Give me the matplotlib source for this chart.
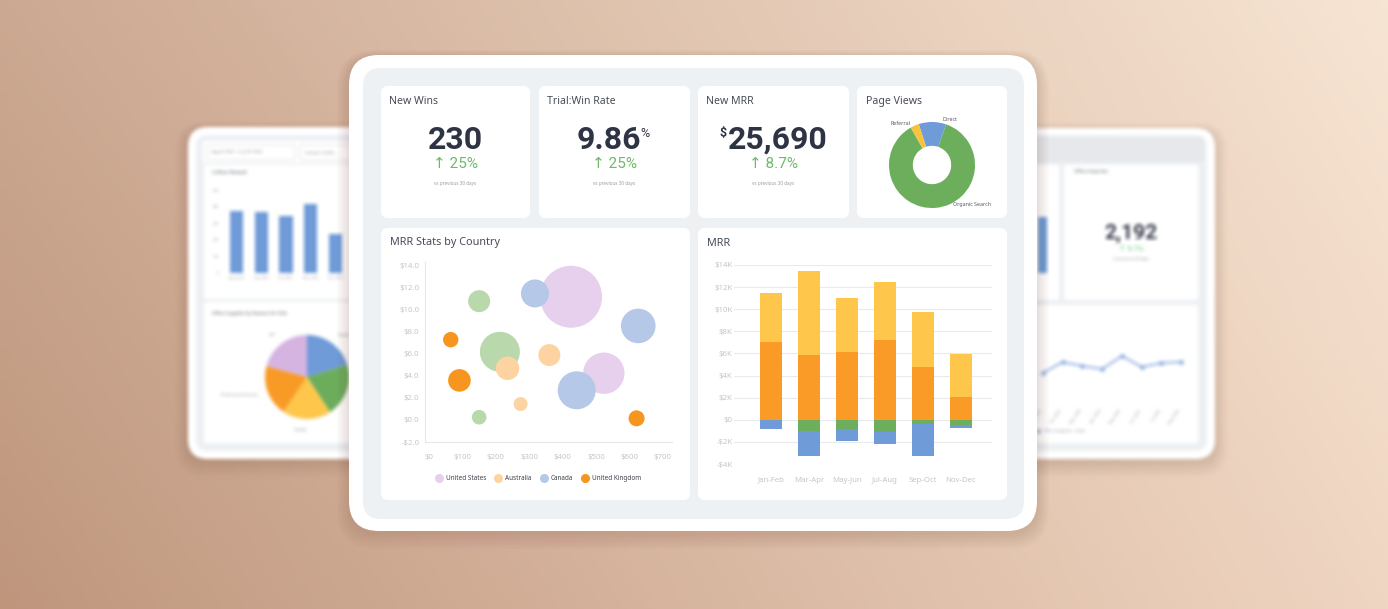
import numpy as np
import matplotlib
matplotlib.use("Agg")
import matplotlib.pyplot as plt
from matplotlib.patches import FancyBboxPatch
from matplotlib.lines import Line2D
from matplotlib.colors import to_rgb


W, H = 1388, 609

# ---------------- data ----------------
kpi_titles = ["New Wins", "Trial:Win Rate", "New MRR"]
kpi_values = ["230", "9.86", "25,690"]
kpi_prefix = ["", "", "$"]
kpi_suffix = ["", "%", ""]
kpi_changes = ["↑ 25%", "↑ 25%", "↑ 8.7%"]
kpi_note = "vs previous 30 days"

page_view_labels = ["Direct", "Organic Search", "Referral"]
page_view_values = [10.3, 86.5, 3.2]

# bubble chart: x = MRR ($), y = growth ($K), r = bubble size
us_x = [425, 523]
us_y = [11.2, 4.25]
us_r = [31, 20.7]
au_x = [235, 360, 274]
au_y = [4.7, 5.9, 1.45]
au_r = [11.7, 11, 7]
ca_x = [317, 626, 442]
ca_y = [11.5, 8.55, 2.7]
ca_r = [14, 17.3, 19]
uk_x = [65, 91, 621]
uk_y = [7.3, 3.6, 0.15]
uk_r = [7.7, 11.3, 8]
other_x = [212, 150, 150]
other_y = [6.2, 10.8, 0.25]
other_r = [20, 11, 7.3]
bubble_xticks = [0, 100, 200, 300, 400, 500, 600, 700]
bubble_yticks = [-2, 0, 2, 4, 6, 8, 10, 12, 14]

# MRR stacked bars ($K)
periods = ["Jan-Feb", "Mar-Apr", "May-Jun", "Jul-Aug", "Sep-Oct", "Nov-Dec"]
mrr_new = [7.02, 5.82, 6.12, 7.18, 4.76, 2.02]
mrr_expansion = [4.44, 7.68, 4.88, 5.27, 4.95, 3.92]
mrr_contraction = [0.0, -1.03, -0.87, -1.12, -0.42, -0.45]
mrr_churn = [-0.87, -2.26, -1.03, -1.05, -2.86, -0.27]
mrr_yticks = [-4, -2, 0, 2, 4, 6, 8, 10, 12, 14]

# background tablets
coffee_months = ["Aug 2021", "Sep 2021", "Oct 2021", "Nov 2021", "Dec 2021"]
coffee_values = [373, 367, 343, 416, 235]
visit_reasons = ["Supplies", "Meeting", "Facility", "Professional Services", "VIP"]
visit_values = [20.3, 20.4, 18.7, 19.7, 20.8]
inquiry_months = ["Jan 2022", "Feb 2022", "Mar 2022", "Apr 2022",
                  "May 2022", "Jun 2022", "Jul 2022", "Aug 2022"]
inquiry_values = [27, 38, 34, 31, 44, 33, 37, 38]
side_bar_value = [337]
inquiries_total = "2,192"
inquiries_change = "↑ 9.7%"

# ---------------- style ----------------
plt.rcParams["font.family"] = ["Noto Sans", "DejaVu Sans"]
NUM_FONT = ["Roboto", "DejaVu Sans"]

BLUE = "#6f9bd8"
GREEN = "#6cae5c"
YELLOW = "#fec74b"
ORANGE = "#f99b26"
TICK = "#c3c6cb"
TITLE = "#474c57"
NAVY = "#2f3445"
UP = "#6dba68"
PANEL = "#eef1f4"


def box(x0, y0, x1, y1):
    return [x0 / W, 1 - y1 / H, (x1 - x0) / W, (y1 - y0) / H]


def rounded(ax, x0, y0, x1, y1, r, color, **kw):
    p = FancyBboxPatch((x0, y0), x1 - x0, y1 - y0,
                       boxstyle=f"round,pad=0,rounding_size={r}",
                       fc=color, ec=kw.pop("ec", "none"), **kw)
    ax.add_patch(p)
    return p


def pixel_layer(fig, z):
    ax = fig.add_axes([0, 0, 1, 1], zorder=z)
    ax.set_xlim(0, W)
    ax.set_ylim(H, 0)
    ax.axis("off")
    ax.patch.set_visible(False)
    return ax


def shadow(ax, x0, y0, x1, y1, r):
    for i in range(1, 9):
        rounded(ax, x0 - i * 1.5, y0 - i + 3, x1 + i * 1.5, y1 + i * 2 + 2,
                r + i, "#6b4030", alpha=0.018)


def bare(ax):
    for s in ax.spines.values():
        s.set_visible(False)
    ax.tick_params(length=0)
    ax.patch.set_visible(False)


def box_blur(img, r):
    for axis in (0, 1):
        pad = [(0, 0)] * img.ndim
        pad[axis] = (r, r)
        p = np.pad(img, pad, mode="edge")
        n = img.shape[axis]
        img = sum(np.take(p, range(i, i + n), axis=axis) for i in range(2 * r + 1)) / (2 * r + 1)
    return img


# ---------------- background (rendered, then blurred) ----------------
back = plt.figure(figsize=(W / 100, H / 100), dpi=100)
bg = pixel_layer(back, 0)
tl, tr, bl, br = [np.array(to_rgb(c)) for c in ("#cca992", "#f8e5d3", "#bf967d", "#f0d6c2")]
u = np.linspace(0, 1, 300)[None, :, None]
v = np.linspace(0, 1, 140)[:, None, None]
grad = (1 - v) * ((1 - u) * tl + u * tr) + v * ((1 - u) * bl + u * br)
bg.imshow(grad, extent=(0, W, H, 0), aspect="auto", zorder=0)

# left tablet
shadow(bg, 188, 127, 420, 459, 20)
rounded(bg, 188, 127, 420, 459, 20, "white", zorder=2)
rounded(bg, 196, 135, 420, 451, 12, PANEL, zorder=2)
rounded(bg, 203, 141, 420, 163, 3, "white", zorder=2)
rounded(bg, 207, 145, 295, 160, 2, "white", ec="#dfe2e6", lw=0.6, zorder=3)
rounded(bg, 300, 145, 360, 160, 2, "white", ec="#dfe2e6", lw=0.6, zorder=3)
bg.text(212, 152.5, "Aug 01 2021  →  Jul 31 2022", fontsize=2.8, color="#7a7d83", va="center", zorder=4)
bg.text(305, 152.5, "Location: Coffee...", fontsize=2.8, color="#7a7d83", va="center", zorder=4)
rounded(bg, 204, 165, 420, 299, 3, "white", zorder=2)
rounded(bg, 204, 302, 420, 443, 3, "white", zorder=2)
bg.text(212, 172, "Coffees Brewed", fontsize=3.4, color="#6a6e76", va="center", zorder=4)
bg.text(212, 313, "Office Supplies by Reason for Visit", fontsize=3.4, color="#6a6e76", va="center", zorder=4)

# right tablet
shadow(bg, 980, 128, 1215, 459, 20)
rounded(bg, 980, 128, 1215, 459, 20, "white", zorder=2)
rounded(bg, 980, 135, 1207, 451, 12, PANEL, zorder=2)
rounded(bg, 980, 137, 1204, 162, 3, "#e6e8eb", zorder=2)
rounded(bg, 980, 165, 1059, 300, 3, "white", zorder=2)
rounded(bg, 1064, 165, 1198, 300, 3, "white", zorder=2)
rounded(bg, 980, 305, 1198, 443, 3, "white", zorder=2)
bg.text(1074, 172, "Office Inquiries", fontsize=3.4, color="#6a6e76", va="center", zorder=4)
bg.text(1131, 233, inquiries_total, fontsize=15, fontweight="bold", family=NUM_FONT,
        color="#3c4150", ha="center", va="center", zorder=4)
bg.text(1131, 249, inquiries_change, fontsize=5.5, family=NUM_FONT, color="#5ccf86",
        ha="center", va="center", zorder=4)
bg.text(1131, 259, "vs previous 30 days", fontsize=2.8, color="#8a8d93",
        ha="center", va="center", zorder=4)

# background charts
axc = back.add_axes(box(222, 190, 350, 273), zorder=1)
axc.bar(range(len(coffee_values)), coffee_values, width=0.53, color=BLUE)
axc.set_xlim(-0.6, 4.6)
axc.set_ylim(0, 500)
axc.set_yticks([0, 100, 200, 300, 400, 500])
axc.set_xticks(range(len(coffee_months)), coffee_months)
axc.tick_params(labelsize=2.6, labelcolor="#a0a3a8", pad=2)
bare(axc)

axp = back.add_axes(box(263, 333, 351, 421), zorder=1)
axp.pie(visit_values, colors=[BLUE, GREEN, YELLOW, ORANGE, "#d5b4e2"], startangle=90,
        counterclock=False, radius=0.955, labels=visit_reasons, labeldistance=1.25,
        textprops=dict(fontsize=2.7, color="#8a8d93"))
axp.set_xlim(-1, 1)
axp.set_ylim(-1, 1)

axb = back.add_axes(box(1023, 190, 1058, 273), zorder=1)
axb.bar([0], side_bar_value, width=0.46, color=BLUE)
axb.set_xlim(-1, 0.8)
axb.set_ylim(0, 500)
axb.set_xticks([])
axb.set_yticks([])
bare(axb)

axl = back.add_axes(box(1033, 320, 1197, 400), zorder=1)
axl.plot(range(len(inquiry_values)), inquiry_values, color="#8fafe2", lw=1.3,
         marker="o", ms=2.4, label="Office Inquiries - Visits")
axl.set_xlim(-0.5, 7.8)
axl.set_ylim(0, 80)
axl.set_yticks([])
axl.set_xticks(range(len(inquiry_months)), inquiry_months, rotation=55, ha="right")
axl.tick_params(labelsize=2.8, labelcolor="#a0a3a8", pad=6)
bare(axl)
axl.legend(loc="upper left", bbox_to_anchor=(0.0, -0.32), frameon=False,
           fontsize=2.8, labelcolor="#8a8d93", handlelength=1, markerscale=0.8)

back.canvas.draw()
backdrop = np.asarray(back.canvas.buffer_rgba())[..., :3].astype(float) / 255
plt.close(back)
backdrop = box_blur(box_blur(backdrop, 2), 1)

# ---------------- main figure ----------------
fig = plt.figure(figsize=(W / 100, H / 100), dpi=100)
base = pixel_layer(fig, 0)
base.imshow(backdrop, extent=(0, W, H, 0), aspect="auto", interpolation="nearest")

fg = pixel_layer(fig, 2)
shadow(fg, 349, 55, 1037, 531, 30)
rounded(fg, 349, 55, 1037, 531, 30, "white")
rounded(fg, 363, 68, 1024, 519, 18, PANEL)

kpi_cards = [(381, 530), (539, 690), (698, 849)]
card_page = (857, 1007)
for (x0, x1) in kpi_cards + [card_page]:
    rounded(fg, x0, 86, x1, 218, 7, "white")
rounded(fg, 381, 228, 690, 500, 7, "white")
rounded(fg, 698, 228, 1007, 500, 7, "white")

shifts = [0, -6, 4]
for (x0, x1), title, val, pre, suf, chg, dx in zip(kpi_cards, kpi_titles, kpi_values,
                                                   kpi_prefix, kpi_suffix, kpi_changes, shifts):
    cx = (x0 + x1) / 2
    fg.text(x0 + 8, 101.5, title, fontsize=7.6, color=TITLE, va="center")
    num = fg.text(cx + dx, 140, val, fontsize=23, fontweight="bold", family=NUM_FONT,
                  color=NAVY, ha="center", va="center")
    if suf:
        fg.annotate(suf, xy=(1.0, 0.93), xycoords=num, fontsize=9, family=NUM_FONT,
                    color=NAVY, ha="left", va="top")
    if pre:
        fg.annotate(pre, xy=(-0.01, 0.93), xycoords=num, fontsize=9, family=NUM_FONT,
                    fontweight="bold", color=NAVY, ha="right", va="top")
    fg.text(cx, 164.5, chg, fontsize=11, family=NUM_FONT, color=UP, ha="center", va="center")
    fg.text(cx, 183, kpi_note, fontsize=3.3, color="#9a9da3", ha="center", va="center")

fg.text(card_page[0] + 9, 101.5, "Page Views", fontsize=7.6, color=TITLE, va="center")
fg.text(390, 243, "MRR Stats by Country", fontsize=7.8, color=TITLE, va="center")
fg.text(707, 243, "MRR", fontsize=7.8, color=TITLE, va="center")

# ---------------- donut ----------------
axd = fig.add_axes(box(887, 120, 977, 210), zorder=3)
wedges, texts = axd.pie(page_view_values, colors=[BLUE, GREEN, "#f8c33c"], startangle=108,
                        counterclock=False, radius=0.956, labels=page_view_labels,
                        labeldistance=1.1, wedgeprops=dict(width=0.53),
                        textprops=dict(fontsize=3.8, color="#555a63"))
label_shift = [(0.22, -0.04), (0.38, 0.16), (-0.05, -0.05)]
for t, (sx, sy) in zip(texts, label_shift):
    x, y = t.get_position()
    t.set_position((x + sx, y + sy))
axd.set_xlim(-1, 1)
axd.set_ylim(-1, 1)

# ---------------- bubble chart ----------------
ax1 = fig.add_axes(box(425, 262, 672, 442), zorder=3)
series = [
    (other_x, other_y, other_r, "#b9d9ac", None),
    (us_x, us_y, us_r, "#e6d0ed", "United States"),
    (au_x, au_y, au_r, "#fdd4a1", "Australia"),
    (ca_x, ca_y, ca_r, "#b5c8e8", "Canada"),
    (uk_x, uk_y, uk_r, "#f7961e", "United Kingdom"),
]
handles = []
for xs, ys, rs, c, lab in series:
    ax1.scatter(xs, ys, s=(np.array(rs) * 1.44) ** 2, color=c, edgecolors="none", zorder=3)
    if lab:
        handles.append(Line2D([], [], ls="", marker="o", ms=5.5, color=c, label=lab))
ax1.set_xlim(-12, 727)
ax1.set_ylim(-2, 14.36)
ax1.set_xticks(bubble_xticks, [f"${v}" for v in bubble_xticks])
ax1.set_yticks(bubble_yticks, [f"-${-v:.1f}" if v < 0 else f"${v:.1f}" for v in bubble_yticks])
ax1.tick_params(length=0, labelsize=5.6, labelcolor=TICK)
ax1.tick_params(axis="x", pad=9)
ax1.tick_params(axis="y", pad=4)
for s in ["top", "right"]:
    ax1.spines[s].set_visible(False)
for s in ["left", "bottom"]:
    ax1.spines[s].set_color("#e6e8eb")
    ax1.spines[s].set_linewidth(0.8)
ax1.patch.set_visible(False)
ax1.legend(handles=handles, loc="center", bbox_to_anchor=(0.46, -0.205), ncol=4,
           frameon=False, fontsize=4.6, labelcolor="#3d414a", handletextpad=0.6,
           columnspacing=1.4, handlelength=1)

# ---------------- MRR stacked bars ----------------
ax2 = fig.add_axes(box(734, 265, 992, 464), zorder=3)
x = np.arange(len(periods))
ax2.bar(x, mrr_new, width=0.58, color=ORANGE, zorder=3)
ax2.bar(x, mrr_expansion, bottom=mrr_new, width=0.58, color=YELLOW, zorder=3)
ax2.bar(x, mrr_contraction, width=0.58, color=GREEN, zorder=3)
ax2.bar(x, mrr_churn, bottom=mrr_contraction, width=0.58, color=BLUE, zorder=3)
ax2.set_xlim(-0.974, 5.82)
ax2.set_ylim(-4, 14)
ax2.set_yticks(mrr_yticks, [f"-${-v}K" if v < 0 else (f"${v}K" if v else "$0") for v in mrr_yticks])
ax2.set_xticks(x, periods)
ax2.grid(axis="y", color="#e8eaed", lw=0.8)
ax2.tick_params(length=0, labelsize=5.6, labelcolor=TICK)
ax2.tick_params(axis="x", pad=9)
ax2.tick_params(axis="y", pad=1)
bare(ax2)

fig.savefig("out.png", dpi=100)
